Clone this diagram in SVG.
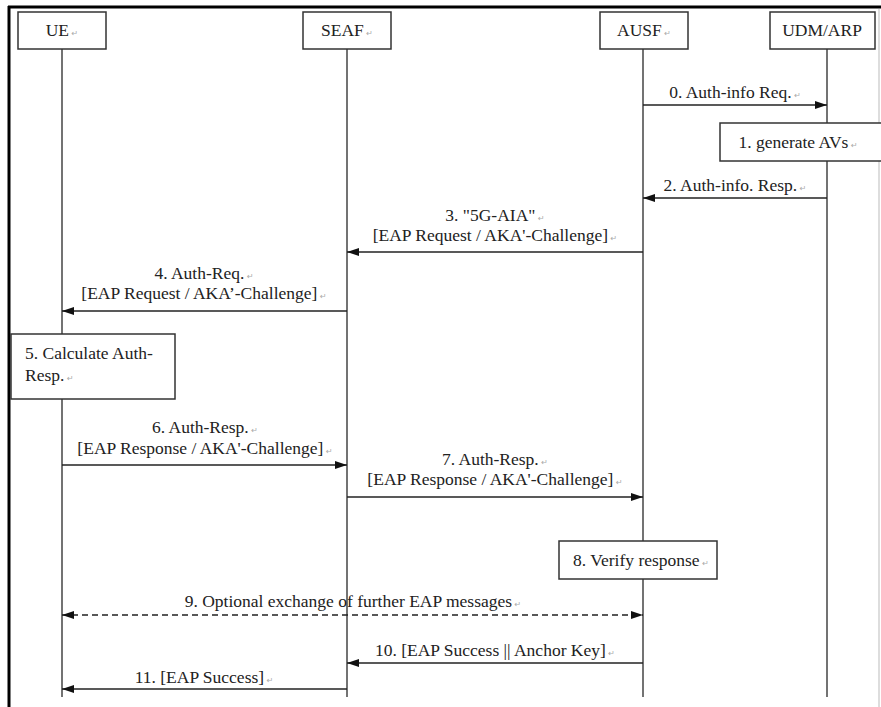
<svg xmlns="http://www.w3.org/2000/svg" width="881" height="707" viewBox="0 0 881 707">
  <defs>
    <marker id="ah" viewBox="0 0 12 8" refX="12" refY="4" markerWidth="12" markerHeight="8" markerUnits="userSpaceOnUse" orient="auto-start-reverse">
      <path d="M0,0 L12,4 L0,8 Z" fill="#111"/>
    </marker>
    <style>
      text { font-family: "Liberation Serif", "Times New Roman", serif; font-size: 17.5px; fill: #222; }
      .m { text-anchor: middle; }
      .ret { font-family: "DejaVu Sans", sans-serif; font-size: 8px; fill: #aaa; }
      .box { fill: #fff; stroke: #333; stroke-width: 1.5; }
      .life { stroke: #444; stroke-width: 1.5; fill: none; }
      .msg { stroke: #222; stroke-width: 1.5; fill: none; marker-end: url(#ah); }
      .dash { stroke-dasharray: 6 4; marker-start: url(#ah); }
      .frame { stroke: #000; stroke-width: 3; fill: none; }
    </style>
  </defs>
  <rect width="881" height="707" fill="#fff"/>

  <!-- outer frame -->
  <line class="frame" x1="8" y1="7" x2="881" y2="7"/>
  <line class="frame" x1="9" y1="6" x2="9" y2="707"/>
  <line x1="879" y1="9" x2="879" y2="707" stroke="#bbb" stroke-width="1"/>

  <!-- lifelines -->
  <g id="lifelines">
    <line class="life" x1="62" y1="49" x2="62" y2="697"/>
    <line class="life" x1="347" y1="49" x2="347" y2="697"/>
    <line class="life" x1="643" y1="49" x2="643" y2="697"/>
    <line class="life" x1="827" y1="49" x2="827" y2="697"/>
  </g>

  <!-- participants -->
  <g id="ue">
    <rect class="box" x="18" y="12" width="88" height="37"/>
    <text class="m" x="62" y="36">UE<tspan class="ret"> ↵</tspan></text>
  </g>
  <g id="seaf">
    <rect class="box" x="303" y="12" width="88" height="37"/>
    <text class="m" x="347" y="36">SEAF<tspan class="ret"> ↵</tspan></text>
  </g>
  <g id="ausf">
    <rect class="box" x="600" y="12" width="88" height="37"/>
    <text class="m" x="644" y="36">AUSF<tspan class="ret"> ↵</tspan></text>
  </g>
  <g id="udm">
    <rect class="box" x="770" y="12" width="105" height="37"/>
    <text class="m" x="822" y="36">UDM/ARP</text>
  </g>

  <!-- local actions -->
  <g id="generate-avs">
    <rect class="box" x="720" y="123" width="165" height="38"/>
    <text class="m" x="798" y="148">1. generate AVs<tspan class="ret"> ↵</tspan></text>
  </g>
  <g id="calc-resp">
    <rect class="box" x="11" y="334" width="164" height="65"/>
    <text x="25" y="359">5. Calculate Auth-</text>
    <text x="25" y="381">Resp.<tspan class="ret"> ↵</tspan></text>
  </g>
  <g id="verify">
    <rect class="box" x="559" y="541" width="158" height="38"/>
    <text class="m" x="641" y="566">8. Verify response<tspan class="ret"> ↵</tspan></text>
  </g>

  <!-- messages -->
  <g id="connectors">
    <line class="msg" x1="643" y1="105" x2="827" y2="105"/>
    <line class="msg" x1="827" y1="198" x2="643" y2="198"/>
    <line class="msg" x1="643" y1="252" x2="347" y2="252"/>
    <line class="msg" x1="347" y1="311" x2="62" y2="311"/>
    <line class="msg" x1="62" y1="465" x2="347" y2="465"/>
    <line class="msg" x1="347" y1="497" x2="643" y2="497"/>
    <line class="msg dash" x1="62" y1="615" x2="643" y2="615"/>
    <line class="msg" x1="643" y1="663" x2="347" y2="663"/>
    <line class="msg" x1="347" y1="689" x2="62" y2="689"/>
  </g>

  <!-- message labels -->
  <g id="labels">
    <text class="m" x="735" y="98">0. Auth-info Req.<tspan class="ret"> ↵</tspan></text>
    <text class="m" x="735" y="191">2. Auth-info. Resp.<tspan class="ret"> ↵</tspan></text>
    <text class="m" x="495" y="221">3. "5G-AIA"<tspan class="ret"> ↵</tspan></text>
    <text class="m" x="495" y="241">[EAP Request / AKA'-Challenge]<tspan class="ret"> ↵</tspan></text>
    <text class="m" x="204" y="279">4. Auth-Req.<tspan class="ret"> ↵</tspan></text>
    <text class="m" x="204" y="299">[EAP Request / AKA’-Challenge]<tspan class="ret"> ↵</tspan></text>
    <text class="m" x="205" y="433">6. Auth-Resp.<tspan class="ret"> ↵</tspan></text>
    <text class="m" x="205" y="454">[EAP Response / AKA'-Challenge]<tspan class="ret"> ↵</tspan></text>
    <text class="m" x="495" y="465">7. Auth-Resp.<tspan class="ret"> ↵</tspan></text>
    <text class="m" x="495" y="485">[EAP Response / AKA'-Challenge]<tspan class="ret"> ↵</tspan></text>
    <text class="m" x="353" y="607">9. Optional exchange of further EAP messages<tspan class="ret"> ↵</tspan></text>
    <text class="m" x="495" y="656">10. [EAP Success || Anchor Key]<tspan class="ret"> ↵</tspan></text>
    <text class="m" x="204" y="683">11. [EAP Success]<tspan class="ret"> ↵</tspan></text>
  </g>
</svg>
